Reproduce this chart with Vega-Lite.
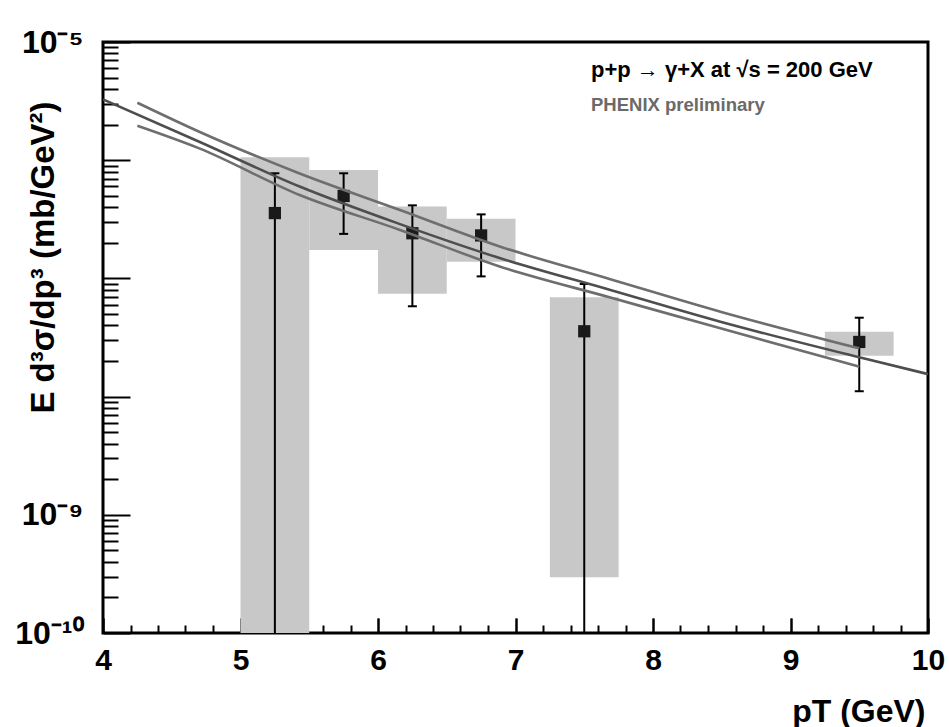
{
  "$schema": "https://vega.github.io/schema/vega-lite/v6.json",
  "width": 825,
  "height": 591,
  "autosize": {"type": "none"},
  "padding": {"left": 103, "top": 42, "right": 21, "bottom": 94},
  "background": "white",
  "config": {
    "view": {"stroke": "black", "strokeWidth": 3},
    "font": "Liberation Sans"
  },
  "datasets": {
    "points": [
      {"pt": 5.25, "y": 3.57e-7, "hi": 7.75e-7, "lo": 1e-11, "slo": 1e-11, "shi": 1.06e-6, "bin_lo": 5.0, "bin_hi": 5.5},
      {"pt": 5.75, "y": 4.98e-7, "hi": 7.75e-7, "lo": 2.38e-7, "slo": 1.74e-7, "shi": 8.26e-7, "bin_lo": 5.5, "bin_hi": 6.0},
      {"pt": 6.25, "y": 2.41e-7, "hi": 4.15e-7, "lo": 5.81e-8, "slo": 7.43e-8, "shi": 4.05e-7, "bin_lo": 6.0, "bin_hi": 6.5},
      {"pt": 6.75, "y": 2.31e-7, "hi": 3.48e-7, "lo": 1.04e-7, "slo": 1.38e-7, "shi": 3.2e-7, "bin_lo": 6.5, "bin_hi": 7.0},
      {"pt": 7.5, "y": 3.57e-8, "hi": 8.97e-8, "lo": 1e-11, "slo": 2.96e-10, "shi": 6.92e-8, "bin_lo": 7.25, "bin_hi": 7.75},
      {"pt": 9.5, "y": 2.9e-8, "hi": 4.65e-8, "lo": 1.11e-8, "slo": 2.22e-8, "shi": 3.54e-8, "bin_lo": 9.25, "bin_hi": 9.75}
    ],
    "curves": [
      {"curve": "upper", "pt": 4.25, "xs": 3.065e-6},
      {"curve": "upper", "pt": 4.7, "xs": 1.742e-6},
      {"curve": "upper", "pt": 5.43, "xs": 7.72e-7},
      {"curve": "upper", "pt": 6.16, "xs": 3.79e-7},
      {"curve": "upper", "pt": 6.89, "xs": 1.855e-7},
      {"curve": "upper", "pt": 7.69, "xs": 9.84e-8},
      {"curve": "upper", "pt": 8.49, "xs": 5.23e-8},
      {"curve": "upper", "pt": 9.5, "xs": 2.56e-8},
      {"curve": "central", "pt": 4.0, "xs": 3.27e-6},
      {"curve": "central", "pt": 4.7, "xs": 1.434e-6},
      {"curve": "central", "pt": 5.43, "xs": 5.99e-7},
      {"curve": "central", "pt": 6.16, "xs": 2.88e-7},
      {"curve": "central", "pt": 6.89, "xs": 1.48e-7},
      {"curve": "central", "pt": 7.69, "xs": 7.98e-8},
      {"curve": "central", "pt": 8.49, "xs": 4.3e-8},
      {"curve": "central", "pt": 9.5, "xs": 2.15e-8},
      {"curve": "central", "pt": 10.0, "xs": 1.55e-8},
      {"curve": "lower", "pt": 4.25, "xs": 1.958e-6},
      {"curve": "lower", "pt": 4.7, "xs": 1.26e-6},
      {"curve": "lower", "pt": 5.43, "xs": 5.08e-7},
      {"curve": "lower", "pt": 6.16, "xs": 2.57e-7},
      {"curve": "lower", "pt": 6.89, "xs": 1.256e-7},
      {"curve": "lower", "pt": 7.69, "xs": 6.89e-8},
      {"curve": "lower", "pt": 8.49, "xs": 3.78e-8},
      {"curve": "lower", "pt": 9.5, "xs": 1.79e-8}
    ]
  },
  "resolve": {"axis": {"x": "independent"}},
  "layer": [
    {
      "data": {"name": "points"},
      "mark": {"type": "rect", "color": "#c8c8c8", "clip": true},
      "encoding": {
        "x": {
          "field": "bin_lo", "type": "quantitative",
          "scale": {"domain": [4, 10], "nice": false, "zero": false},
          "axis": {
            "orient": "bottom",
            "values": [4, 4.2, 4.4, 4.6, 4.8, 5, 5.2, 5.4, 5.6, 5.8, 6, 6.2, 6.4, 6.6, 6.8, 7, 7.2, 7.4, 7.6, 7.8, 8, 8.2, 8.4, 8.6, 8.8, 9, 9.2, 9.4, 9.6, 9.8, 10],
            "tickSize": {"condition": {"test": "abs(datum.value - round(datum.value)) < 0.01", "value": -15}, "value": -8},
            "labels": false,
            "tickColor": "black",
            "tickWidth": 2,
            "domain": false,
            "grid": false,
            "title": null
          }
        },
        "x2": {"field": "bin_hi"},
        "y": {
          "field": "slo", "type": "quantitative",
          "scale": {"type": "log", "domain": [1e-10, 1e-5], "nice": false},
          "axis": {
            "values": [1e-10, 2e-10, 3e-10, 4e-10, 5e-10, 6e-10, 7e-10, 8e-10, 9e-10, 1e-9, 2e-9, 3e-9, 4e-9, 5e-9, 6e-9, 7e-9, 8e-9, 9e-9, 1e-8, 2e-8, 3e-8, 4e-8, 5e-8, 6e-8, 7e-8, 8e-8, 9e-8, 1e-7, 2e-7, 3e-7, 4e-7, 5e-7, 6e-7, 7e-7, 8e-7, 9e-7, 1e-6, 2e-6, 3e-6, 4e-6, 5e-6, 6e-6, 7e-6, 8e-6, 9e-6, 1e-5],
            "tickSize": {"condition": {"test": "abs(log(datum.value)/LN10 - round(log(datum.value)/LN10)) < 0.01", "value": -27}, "value": -15},
            "labelExpr": "abs(log(datum.value)/LN10 - round(log(datum.value)/LN10)) > 0.01 ? '' : (round(log(datum.value)/LN10) == -5 ? '10⁻⁵' : (round(log(datum.value)/LN10) == -9 ? '10⁻⁹' : (round(log(datum.value)/LN10) == -10 ? '10⁻¹⁰' : '')))",
            "labelPadding": 47,
            "labelFontSize": 32,
            "labelFontWeight": "bold",
            "labelColor": "black",
            "labelFlush": false,
            "labelOverlap": false,
            "labelBound": false,
            "labelBaseline": "middle",
            "tickColor": "black",
            "tickWidth": 2,
            "domain": false,
            "grid": false,
            "title": "E d³σ/dp³  (mb/GeV²)",
            "titleFontSize": 33,
            "titleFontWeight": "bold",
            "titleColor": "black",
            "titleAngle": -90,
            "titleX": -60,
            "titleY": 215,
            "titleAlign": "center",
            "titleBaseline": "middle"
          }
        },
        "y2": {"field": "shi"}
      }
    },
    {
      "data": {"name": "points"},
      "mark": {"type": "rule", "color": "black", "strokeWidth": 2, "clip": true},
      "encoding": {
        "x": {
          "field": "pt", "type": "quantitative",
          "axis": {
            "orient": "bottom",
            "values": [4, 5, 6, 7, 8, 9, 10],
            "format": "d",
            "tickSize": -15,
            "tickColor": "black",
            "tickWidth": 2,
            "labelPadding": 27,
            "labelFontSize": 30,
            "labelFontWeight": "bold",
            "labelColor": "black",
            "labelFlush": false,
            "labelOverlap": false,
            "labelBound": false,
            "domain": false,
            "grid": false,
            "title": "pT (GeV)",
            "titleFontSize": 32,
            "titleFontWeight": "bold",
            "titleColor": "black",
            "titleX": 822,
            "titleY": 88,
            "titleAlign": "right",
            "titleBaseline": "alphabetic",
            "titleAnchor": "end"
          }
        },
        "y": {"field": "lo", "type": "quantitative"},
        "y2": {"field": "hi"}
      }
    },
    {
      "data": {"name": "points"},
      "mark": {"type": "tick", "orient": "horizontal", "color": "black", "size": 9, "thickness": 2, "opacity": 1, "clip": true},
      "encoding": {
        "x": {"field": "pt", "type": "quantitative", "axis": null},
        "y": {"field": "hi", "type": "quantitative"}
      }
    },
    {
      "data": {"name": "points"},
      "mark": {"type": "tick", "orient": "horizontal", "color": "black", "size": 9, "thickness": 2, "opacity": 1, "clip": true},
      "encoding": {
        "x": {"field": "pt", "type": "quantitative", "axis": null},
        "y": {"field": "lo", "type": "quantitative"}
      }
    },
    {
      "data": {"name": "points"},
      "mark": {"type": "point", "shape": "square", "filled": true, "size": 150, "color": "#1a1a1a", "opacity": 1},
      "encoding": {
        "x": {"field": "pt", "type": "quantitative", "axis": null},
        "y": {"field": "y", "type": "quantitative"}
      }
    },
    {
      "data": {"name": "curves"},
      "mark": {"type": "line", "strokeWidth": 2.6, "interpolate": "monotone", "clip": true},
      "encoding": {
        "x": {"field": "pt", "type": "quantitative", "axis": null},
        "y": {"field": "xs", "type": "quantitative"},
        "detail": {"field": "curve"},
        "color": {"field": "curve", "type": "nominal", "scale": {"domain": ["upper", "central", "lower"], "range": ["#6e6e6e", "#4e4e4e", "#6e6e6e"]}, "legend": null}
      }
    },
    {
      "data": {"values": [{"px": 7.549, "py": 5.06e-6, "label": "p+p → γ+X at √s = 200 GeV"}]},
      "mark": {"type": "text", "align": "left", "baseline": "alphabetic", "fontSize": 22, "fontWeight": "bold", "font": "Liberation Sans", "color": "black"},
      "encoding": {
        "x": {"field": "px", "type": "quantitative", "axis": null},
        "y": {"field": "py", "type": "quantitative"},
        "text": {"field": "label"}
      }
    },
    {
      "data": {"values": [{"px": 7.549, "py": 2.61e-6, "label": "PHENIX preliminary"}]},
      "mark": {"type": "text", "align": "left", "baseline": "alphabetic", "fontSize": 18.5, "fontWeight": "bold", "font": "Liberation Sans", "color": "#6a6a6a"},
      "encoding": {
        "x": {"field": "px", "type": "quantitative", "axis": null},
        "y": {"field": "py", "type": "quantitative"},
        "text": {"field": "label"}
      }
    }
  ]
}
